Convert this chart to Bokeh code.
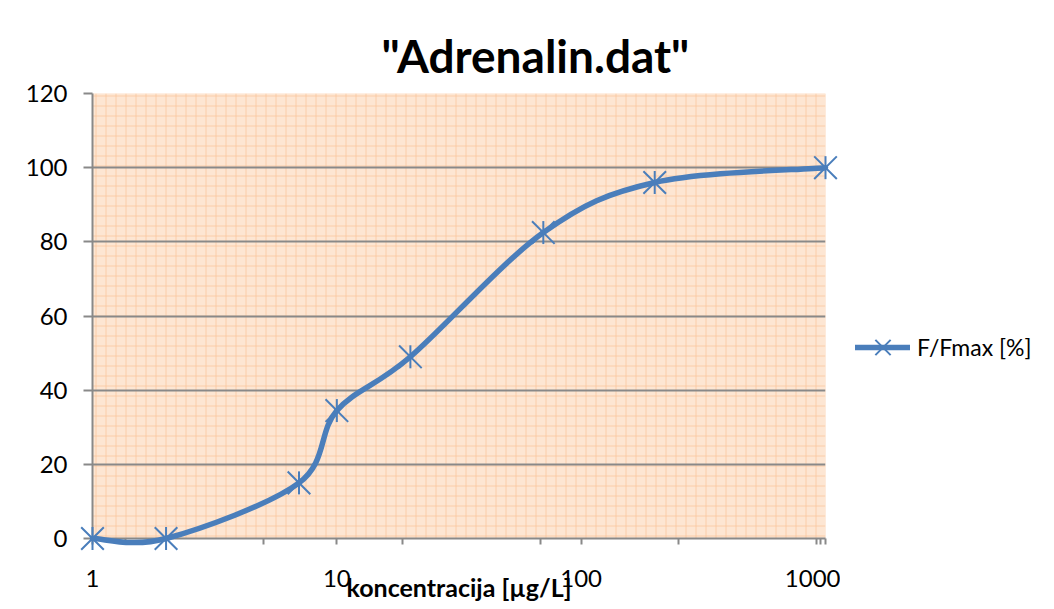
import numpy as np
from bokeh.plotting import figure
from bokeh.layouts import row
from bokeh.models import (FixedTicker, BasicTickFormatter, Legend, LegendItem,
                          BoxAnnotation, Title, Range1d)
from bokeh.embed import file_html
from bokeh.resources import INLINE

# ---- data ----
title_text = '"Adrenalin.dat"'
x_label = "koncentracija [µg/L]"
series_name = "F/Fmax [%]"
concentration = [1, 2, 7, 10, 20, 70, 200, 1000]
f_fmax = [0, 0, 15, 34.5, 49, 82.5, 96, 100]
x_major_ticks = [1, 10, 100, 1000]
x_minor_ticks = [1.37, 5.0, 18.5, 68, 250, 918, 955]
y_ticks = [0, 20, 40, 60, 80, 100, 120]

BLUE = "#4a7ebb"
GRAY = "#898989"
FONT = "Lato"
MAIN_W, LEG_W, H = 840, 210, 607

# ---- smoothed line (Excel-style Catmull-Rom bezier through the points) ----
lx = np.log10(np.array(concentration, dtype=float))
yy = np.array(f_fmax, dtype=float)
px = np.concatenate([[lx[0]], lx, [lx[-1]]])
py = np.concatenate([[yy[0]], yy, [yy[-1]]])
x0, y0, x1, y1, cx0, cy0, cx1, cy1 = ([] for _ in range(8))
for i in range(len(lx) - 1):
    a, b, c, d = i, i + 1, i + 2, i + 3
    x0.append(10 ** px[b]); y0.append(py[b])
    x1.append(10 ** px[c]); y1.append(py[c])
    cx0.append(10 ** (px[b] + (px[c] - px[a]) / 6.0)); cy0.append(py[b] + (py[c] - py[a]) / 6.0)
    cx1.append(10 ** (px[c] - (px[d] - px[b]) / 6.0)); cy1.append(py[c] - (py[d] - py[b]) / 6.0)

p = figure(width=MAIN_W, height=H, x_axis_type="log",
           x_range=Range1d(1, 1000), y_range=Range1d(0, 120),
           output_backend="svg", toolbar_location=None,
           min_border_left=92, min_border_right=MAIN_W - 825,
           min_border_top=93, min_border_bottom=69)
p.outline_line_color = None
p.background_fill_color = "#fde5d1"
p.border_fill_color = "white"

# hatched "graph paper" background
bg = BoxAnnotation(fill_color="#fde6d3", fill_alpha=1.0, line_color=None,
                   hatch_pattern="cross", hatch_scale=10, hatch_color="#f9c59a",
                   hatch_alpha=0.75, hatch_weight=1, level="image")
p.add_layout(bg)

# grids
p.xgrid.visible = False
p.ygrid.ticker = FixedTicker(ticks=y_ticks)
p.ygrid.grid_line_color = GRAY
p.ygrid.grid_line_width = 2

# axes
p.xaxis.ticker = FixedTicker(ticks=x_major_ticks, minor_ticks=x_minor_ticks)
p.xaxis.formatter = BasicTickFormatter()
p.yaxis.ticker = FixedTicker(ticks=y_ticks)
for ax in (p.xaxis, p.yaxis):
    ax.axis_line_color = GRAY
    ax.axis_line_width = 2
    ax.major_tick_line_color = GRAY
    ax.major_tick_line_width = 2
    ax.minor_tick_line_color = GRAY
    ax.minor_tick_line_width = 2
    ax.major_tick_in = 0
    ax.minor_tick_in = 0
    ax.major_label_text_font = FONT
    ax.major_label_text_font_size = "24px"
    ax.major_label_text_color = "black"
p.xaxis.major_tick_out = 6
p.xaxis.minor_tick_out = 6
p.xaxis.major_label_standoff = 25
p.yaxis.major_tick_out = 9
p.yaxis.minor_tick_out = 0
p.yaxis.major_label_standoff = 16
p.xaxis.axis_label = x_label
p.xaxis.axis_label_text_font = FONT
p.xaxis.axis_label_text_font_style = "bold"
p.xaxis.axis_label_text_font_size = "25px"
p.xaxis.axis_label_text_color = "black"
p.xaxis.axis_label_standoff = -18

# series
line_style = dict(line_color=BLUE, line_width=5.5, line_cap="round")
x_style = dict(marker="x", size=32, line_color=BLUE, line_width=2)
v_style = dict(marker="dash", angle=np.pi / 2, size=23, line_color=BLUE, line_width=2)
p.bezier(x0=x0, y0=y0, x1=x1, y1=y1, cx0=cx0, cy0=cy0, cx1=cx1, cy1=cy1,
         level="overlay", **line_style)
p.scatter(concentration, f_fmax, level="overlay", **x_style)
p.scatter(concentration, f_fmax, level="overlay", **v_style)

p.add_layout(Title(text=title_text, align="left", offset=289, standoff=22,
                   text_font=FONT, text_font_style="bold", text_font_size="46px",
                   text_color="black"), "above")

# ---- legend panel (same series style, its own frame so it is not clipped) ----
q = figure(width=LEG_W, height=H, x_range=Range1d(-10, -9), y_range=Range1d(-10, -9),
           x_axis_location=None, y_axis_location=None, output_backend="svg",
           toolbar_location=None, min_border=0)
q.outline_line_color = None
q.xgrid.visible = False
q.ygrid.visible = False
q.background_fill_color = "white"
r_line = q.line(concentration, f_fmax, **line_style)
r_x = q.scatter(concentration, f_fmax, **x_style)
r_v = q.scatter(concentration, f_fmax, **v_style)
legend = Legend(items=[LegendItem(label=series_name, renderers=[r_line, r_x, r_v])],
                location=(855 - MAIN_W, 164), padding=0, margin=0,
                border_line_color=None, background_fill_alpha=0,
                glyph_width=55, glyph_height=54, label_standoff=7,
                label_text_font=FONT, label_text_font_size="23px",
                label_text_color="black")
q.add_layout(legend)

layout = row(p, q, spacing=0)
open("out.html", "w").write(file_html(layout, INLINE))
